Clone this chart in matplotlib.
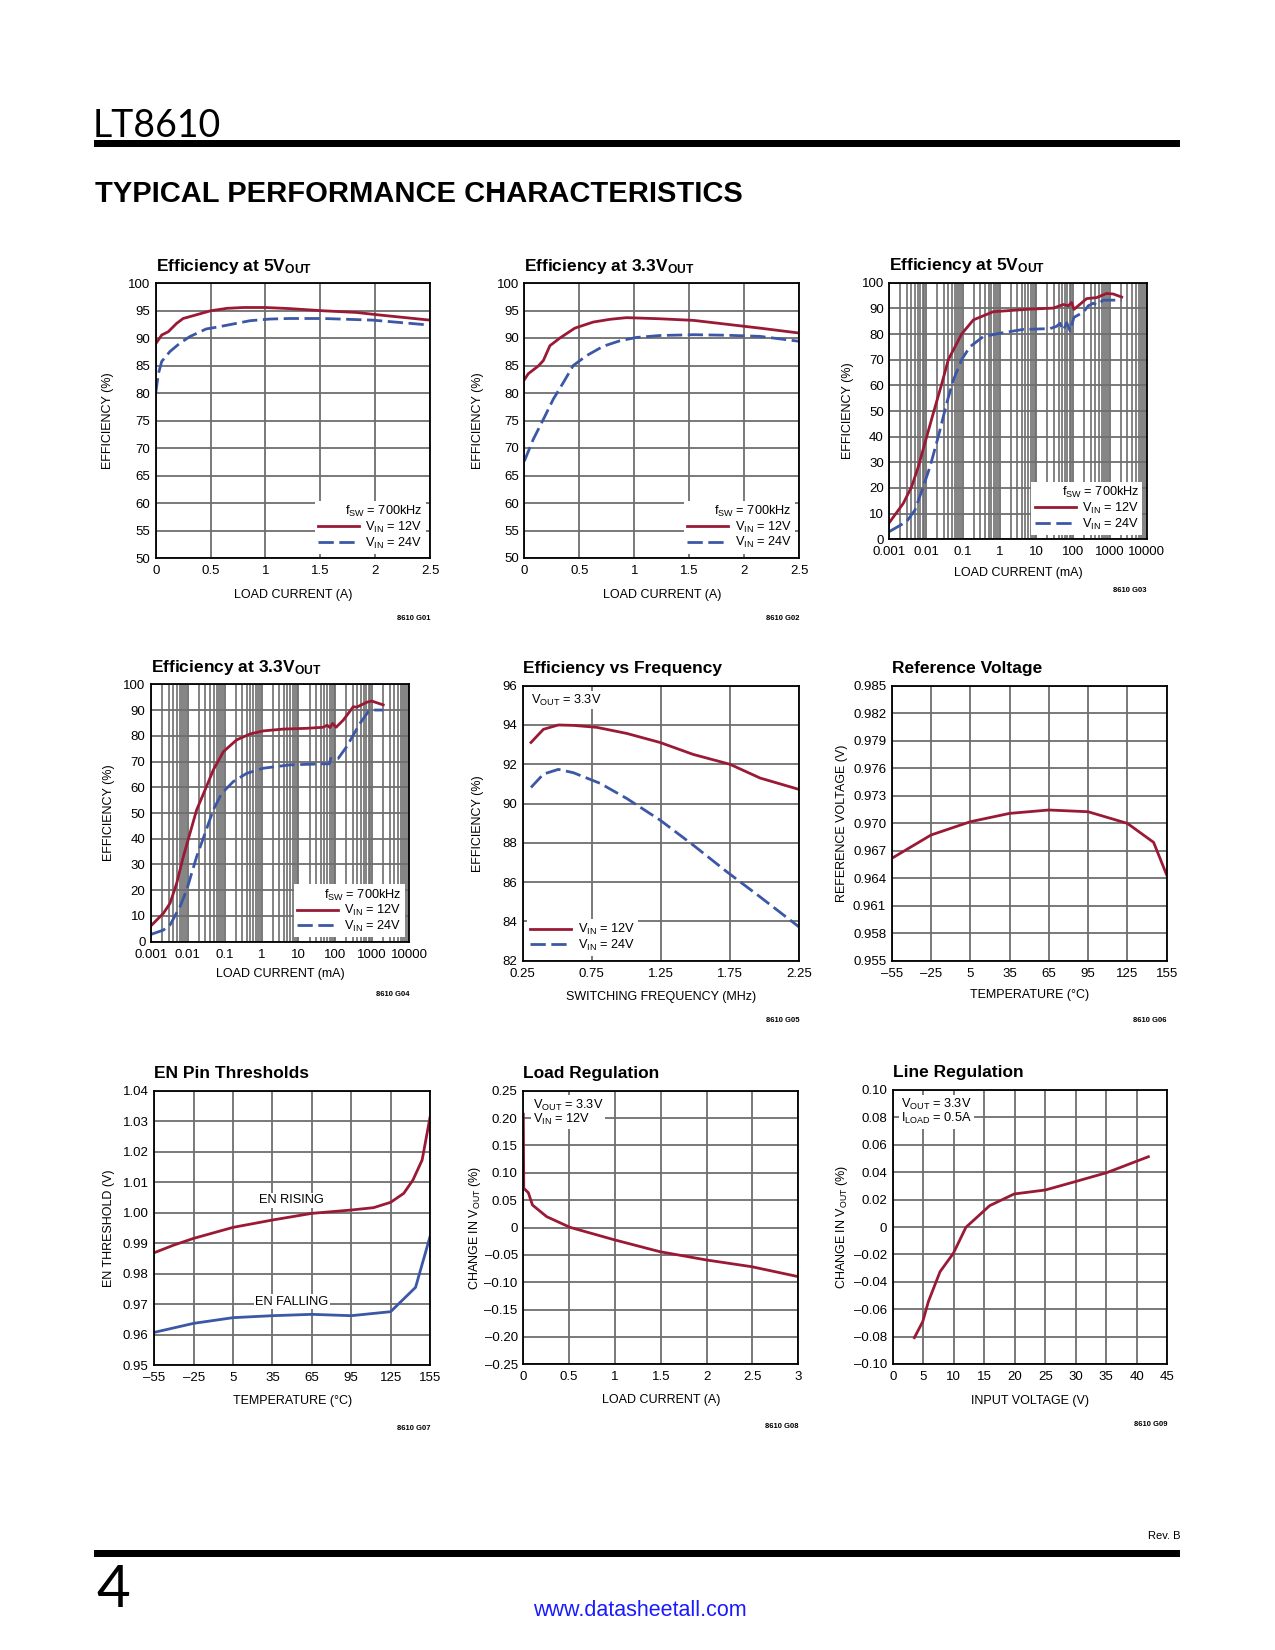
import matplotlib
matplotlib.use('Agg')
import matplotlib.pyplot as plt
from matplotlib.ticker import FixedLocator, FuncFormatter, LogLocator, NullFormatter
from matplotlib.patches import Rectangle

NARROW = ['Liberation Sans Narrow', 'Liberation Sans', 'DejaVu Sans']
plt.rcParams['font.family'] = NARROW
plt.rcParams['mathtext.default'] = 'regular'
plt.rcParams['axes.unicode_minus'] = False

RED = '#9a1a35'
BLUE = '#3b57a6'
GRID = '#6e6e6e'

# ---- data ----
# G01 efficiency at 5Vout, linear current (A)
g01_i12 = [0.0, 0.055, 0.115, 0.19, 0.25, 0.34, 0.5, 0.65, 0.8, 1.0, 1.22, 1.53, 1.83, 2.01, 2.5]
g01_e12 = [89.0, 90.6, 91.2, 92.7, 93.6, 94.1, 95.0, 95.45, 95.6, 95.6, 95.4, 95.0, 94.7, 94.3, 93.3]
g01_i24 = [0.0, 0.025, 0.055, 0.13, 0.22, 0.31, 0.46, 0.55, 0.68, 0.86, 1.04, 1.22, 1.53, 1.98, 2.5]
g01_e24 = [80.0, 83.6, 85.8, 87.6, 89.1, 90.3, 91.7, 92.0, 92.5, 93.2, 93.5, 93.6, 93.6, 93.3, 92.4]

# G02 efficiency at 3.3Vout
g02_i12 = [0.0, 0.036, 0.127, 0.173, 0.233, 0.324, 0.46, 0.627, 0.78, 0.93, 1.08, 1.23, 1.54, 1.84, 2.14, 2.5]
g02_e12 = [82.4, 83.5, 84.9, 85.9, 88.6, 90.0, 91.8, 92.9, 93.4, 93.7, 93.6, 93.5, 93.2, 92.5, 91.8, 90.9]
g02_i24 = [0.0, 0.082, 0.173, 0.264, 0.355, 0.445, 0.567, 0.718, 0.87, 1.02, 1.23, 1.54, 1.84, 2.14, 2.5]
g02_e24 = [67.6, 71.6, 75.2, 78.9, 81.9, 85.0, 86.8, 88.5, 89.5, 90.1, 90.45, 90.6, 90.5, 90.3, 89.4]

# G03 efficiency at 5Vout, log current (mA)
g03_i12 = [0.001, 0.0024, 0.00405, 0.00615, 0.0104, 0.0157, 0.026, 0.0403, 0.0927, 0.193, 0.674,
           6.7, 28.8, 54, 73.6, 91, 105, 233, 436, 810, 1230, 2090]
g03_e12 = [6.5, 14.0, 20.5, 28.3, 40.0, 49.1, 60.0, 70.0, 80.0, 85.5, 88.7,
           89.7, 90.1, 91.5, 91.0, 92.3, 89.6, 93.8, 94.2, 95.8, 95.6, 94.4]
g03_i24 = [0.001, 0.00296, 0.00499, 0.0084, 0.0128, 0.0215, 0.0363, 0.055, 0.0927, 0.155, 0.36, 1.02,
           4.4, 23.4, 35.5, 43.7, 54, 67, 82.5, 105, 189, 258, 353, 436, 660, 2090]
g03_e24 = [3.0, 6.9, 11.4, 20.5, 28.3, 40.0, 53.0, 62.0, 70.0, 75.0, 79.0, 80.3,
           81.8, 82.1, 83.0, 84.2, 81.5, 84.4, 81.2, 86.5, 88.5, 91.0, 92.0, 91.3, 93.2, 93.2]

# G04 efficiency at 3.3Vout, log current (mA)
g04_i12 = [0.001, 0.00216, 0.00328, 0.00497, 0.00753, 0.0114, 0.0173, 0.0292, 0.049, 0.0917, 0.21, 0.486,
           1.12, 3.89, 16.6, 47, 60, 71.7, 84.6, 105, 165, 308, 379, 707, 970, 2000]
g04_e12 = [6.2, 11.0, 14.9, 22.7, 33.0, 42.1, 51.2, 58.9, 66.7, 73.8, 78.4, 80.7,
           81.9, 82.6, 82.9, 83.3, 84.1, 83.2, 84.8, 83.3, 86.1, 91.3, 91.1, 93.0, 93.5, 92.0]
g04_i24 = [0.001, 0.00216, 0.00328, 0.00612, 0.00927, 0.0173, 0.0292, 0.049, 0.0826, 0.171, 0.394, 1.12,
           5.89, 47, 69, 75, 120, 204, 308, 467, 790, 1075, 2000]
g04_e24 = [2.85, 4.5, 6.5, 13.6, 20.1, 33.0, 42.1, 51.2, 57.6, 62.2, 65.4, 67.4,
           68.7, 69.1, 69.1, 71.2, 71.2, 75.8, 80.3, 84.8, 89.4, 90.0, 90.0]

# G05 efficiency vs switching frequency (MHz)
g05_f12 = [0.31, 0.40, 0.508, 0.617, 0.786, 1.003, 1.244, 1.485, 1.75, 1.968, 2.25]
g05_e12 = [93.11, 93.78, 94.0, 93.98, 93.88, 93.57, 93.11, 92.5, 92.0, 91.3, 90.72]
g05_f24 = [0.31, 0.40, 0.508, 0.617, 0.81, 1.003, 1.244, 1.485, 1.727, 1.968, 2.25]
g05_e24 = [90.82, 91.5, 91.74, 91.57, 91.03, 90.26, 89.16, 87.88, 86.53, 85.25, 83.72]

# G06 reference voltage vs temperature
g06_t = [-55, -25, 5, 35, 65, 95, 125, 145, 155]
g06_v = [0.96616, 0.96871, 0.97016, 0.97107, 0.97144, 0.97125, 0.96998, 0.96791, 0.96435]

# G07 EN pin thresholds
g07_t_rise = [-55, -40, -25, 5, 35, 65, 95, 112, 125, 135, 142, 149, 155]
g07_v_rise = [0.98685, 0.98937, 0.99155, 0.99516, 0.99757, 0.99975, 1.00085, 1.00162, 1.00337,
              1.00632, 1.01069, 1.01725, 1.03125]
g07_t_fall = [-55, -25, 5, 35, 65, 95, 125, 144, 155]
g07_v_fall = [0.96071, 0.96367, 0.96553, 0.96618, 0.96662, 0.96618, 0.96749, 0.97548, 0.9921]

# G08 load regulation
g08_i = [0.0, 0.005, 0.055, 0.10, 0.255, 0.51, 1.0, 1.49, 2.0, 2.49, 3.0]
g08_dv = [0.207, 0.0716, 0.0636, 0.0411, 0.0198, 0.0003, -0.0228, -0.0442, -0.0594, -0.0716, -0.0898]

# G09 line regulation
g09_vin = [3.55, 4.92, 5.84, 7.76, 9.94, 12.0, 15.9, 19.9, 25.0, 29.9, 35.1, 41.9]
g09_dv = [-0.0808, -0.0691, -0.0545, -0.0326, -0.0192, -0.0002, 0.0156, 0.0241, 0.0270, 0.0331, 0.0397, 0.0513]

# tick lists
eff_lin_ticks = [50, 55, 60, 65, 70, 75, 80, 85, 90, 95, 100]
eff_log_ticks = [0, 10, 20, 30, 40, 50, 60, 70, 80, 90, 100]
cur_lin_ticks = [0, 0.5, 1, 1.5, 2, 2.5]
cur_log_ticks = [0.001, 0.01, 0.1, 1, 10, 100, 1000, 10000]
freq_ticks = [0.25, 0.75, 1.25, 1.75, 2.25]
freq_eff_ticks = [82, 84, 86, 88, 90, 92, 94, 96]
temp_ticks = [-55, -25, 5, 35, 65, 95, 125, 155]
vref_ticks = [0.955, 0.958, 0.961, 0.964, 0.967, 0.970, 0.973, 0.976, 0.979, 0.982, 0.985]
en_ticks = [0.95, 0.96, 0.97, 0.98, 0.99, 1.00, 1.01, 1.02, 1.03, 1.04]
load_ticks = [0, 0.5, 1, 1.5, 2, 2.5, 3]
load_dv_ticks = [-0.25, -0.20, -0.15, -0.10, -0.05, 0, 0.05, 0.10, 0.15, 0.20, 0.25]
vin_ticks = [0, 5, 10, 15, 20, 25, 30, 35, 40, 45]
line_dv_ticks = [-0.10, -0.08, -0.06, -0.04, -0.02, 0, 0.02, 0.04, 0.06, 0.08, 0.10]

W, H = 1275, 1650
fig = plt.figure(figsize=(12.75, 16.5), dpi=100)
FS = 9.2


def new_axes(l, r, t, b):
    return fig.add_axes([l / W, 1 - b / H, (r - l) / W, (b - t) / H])


def fmt(spec, zero=None):
    def f(v, pos):
        if zero is not None and abs(v) < 1e-12:
            return zero
        return (spec % v).replace('-', '\u2013')
    return FuncFormatter(f)


def decorate(ax, title, xlabel, ylabel, xticks, yticks, xf, yf, ylx, xly, code, log=False):
    ax.set_title(title, loc='left', fontsize=12.5, fontweight='bold', pad=9)
    ax.set_xlabel(xlabel, fontsize=9)
    ax.set_ylabel(ylabel, fontsize=9)
    ax.yaxis.set_label_coords(ylx, 0.5)
    ax.yaxis.label.set_va('center')
    ax.xaxis.set_label_coords(0.5, xly)
    ax.xaxis.label.set_va('center')
    ax.xaxis.set_major_locator(FixedLocator(xticks))
    ax.yaxis.set_major_locator(FixedLocator(yticks))
    ax.xaxis.set_major_formatter(xf)
    ax.yaxis.set_major_formatter(yf)
    ax.tick_params(which='both', length=0, labelsize=9.5)
    ax.tick_params(axis='x', pad=5)
    ax.tick_params(axis='y', pad=4)
    ax.set_axisbelow(True)
    ax.grid(True, which='major', color=GRID, lw=1.3)
    if log:
        ax.xaxis.set_minor_locator(LogLocator(base=10, subs=range(2, 10), numticks=20))
        ax.xaxis.set_minor_formatter(NullFormatter())
        ax.grid(True, which='minor', axis='x', color=GRID, lw=1.2)
    for s in ax.spines.values():
        s.set_linewidth(1.3)
        s.set_color('black')
    pos = ax.get_position()
    fig.text(pos.x1, pos.y0 - code / H, code_names.pop(0), ha='right', va='center',
             fontsize=5.5, fontweight='bold')


def eff_legend(ax, title=r'f$_{SW}$ = 700kHz', loc='lower right'):
    leg = ax.legend(loc=loc, title=title, alignment='right', fontsize=FS, title_fontsize=FS,
                    frameon=True, facecolor='white', edgecolor='none', framealpha=1, fancybox=False,
                    borderpad=0.25, borderaxespad=0.35, handlelength=3.2, handletextpad=0.5,
                    labelspacing=0.05)
    leg.set_zorder(5)
    return leg


code_names = ['8610 G01', '8610 G02', '8610 G03', '8610 G04', '8610 G05', '8610 G06',
              '8610 G07', '8610 G08', '8610 G09']
LW = 2.0
DASH = (5.5, 2.0)
lab12 = r'V$_{IN}$ = 12V'
lab24 = r'V$_{IN}$ = 24V'

# ---- G01 ----
ax = new_axes(155.7, 430, 283.3, 558.3)
ax.plot(g01_i12, g01_e12, color=RED, lw=LW, label=lab12)
ax.plot(g01_i24, g01_e24, color=BLUE, lw=LW, dashes=DASH, label=lab24)
ax.set_xlim(0, 2.5)
ax.set_ylim(50, 100)
decorate(ax, r'Efficiency at 5V$_{OUT}$', 'LOAD CURRENT (A)', 'EFFICIENCY (%)',
         cur_lin_ticks, eff_lin_ticks, fmt('%g'), fmt('%g'), -0.175, -0.134, 60)
eff_legend(ax)

# ---- G02 ----
ax = new_axes(524.3, 799.3, 283, 558)
ax.plot(g02_i12, g02_e12, color=RED, lw=LW, label=lab12)
ax.plot(g02_i24, g02_e24, color=BLUE, lw=LW, dashes=DASH, label=lab24)
ax.set_xlim(0, 2.5)
ax.set_ylim(50, 100)
decorate(ax, r'Efficiency at 3.3V$_{OUT}$', 'LOAD CURRENT (A)', 'EFFICIENCY (%)',
         cur_lin_ticks, eff_lin_ticks, fmt('%g'), fmt('%g'), -0.167, -0.134, 61)
eff_legend(ax)

# ---- G03 ----
ax = new_axes(889.3, 1146.7, 282.7, 539.3)
ax.plot(g03_i12, g03_e12, color=RED, lw=LW, label=lab12)
ax.plot(g03_i24, g03_e24, color=BLUE, lw=LW, dashes=DASH, label=lab24)
ax.set_xscale('log')
ax.set_xlim(0.001, 10000)
ax.set_ylim(0, 100)
decorate(ax, r'Efficiency at 5V$_{OUT}$', 'LOAD CURRENT (mA)', 'EFFICIENCY (%)',
         cur_log_ticks, eff_log_ticks, fmt('%g'), fmt('%g'), -0.16, -0.132, 51, log=True)
eff_legend(ax)

# ---- G04 ----
ax = new_axes(151, 409, 684.3, 941.7)
ax.plot(g04_i12, g04_e12, color=RED, lw=LW, label=lab12)
ax.plot(g04_i24, g04_e24, color=BLUE, lw=LW, dashes=DASH, label=lab24)
ax.set_xscale('log')
ax.set_xlim(0.001, 10000)
ax.set_ylim(0, 100)
decorate(ax, r'Efficiency at 3.3V$_{OUT}$', 'LOAD CURRENT (mA)', 'EFFICIENCY (%)',
         cur_log_ticks, eff_log_ticks, fmt('%g'), fmt('%g'), -0.163, -0.126, 53, log=True)
eff_legend(ax)

# ---- G05 ----
ax = new_axes(522.7, 799, 685.7, 960.7)
ax.plot(g05_f12, g05_e12, color=RED, lw=LW, label=lab12)
ax.plot(g05_f24, g05_e24, color=BLUE, lw=LW, dashes=DASH, label=lab24)
ax.set_xlim(0.25, 2.25)
ax.set_ylim(82, 96)
decorate(ax, 'Efficiency vs Frequency', 'SWITCHING FREQUENCY (MHz)', 'EFFICIENCY (%)',
         freq_ticks, freq_eff_ticks, fmt('%g'), fmt('%g'), -0.163, -0.131, 60)
eff_legend(ax, title=None, loc='lower left')
ax.text(0.03, 0.975, r'V$_{OUT}$ = 3.3V', transform=ax.transAxes, va='top', ha='left',
        fontsize=FS, bbox=dict(fc='white', ec='none', pad=1))

# ---- G06 ----
ax = new_axes(891.7, 1166.7, 685.7, 960.7)
ax.plot(g06_t, g06_v, color=RED, lw=LW)
ax.set_xlim(-55, 155)
ax.set_ylim(0.955, 0.985)
decorate(ax, 'Reference Voltage', 'TEMPERATURE (\u00b0C)', 'REFERENCE VOLTAGE (V)',
         temp_ticks, vref_ticks, fmt('%g'), fmt('%.3f'), -0.182, -0.124, 60)

# ---- G07 ----
ax = new_axes(154.3, 430, 1090.7, 1365)
ax.plot(g07_t_rise, g07_v_rise, color=RED, lw=LW)
ax.plot(g07_t_fall, g07_v_fall, color=BLUE, lw=LW)
ax.set_xlim(-55, 155)
ax.set_ylim(0.95, 1.04)
decorate(ax, 'EN Pin Thresholds', 'TEMPERATURE (\u00b0C)', 'EN THRESHOLD (V)',
         temp_ticks, en_ticks, fmt('%g'), fmt('%.2f'), -0.163, -0.133, 63)
ax.text(49.6, 1.0041, 'EN RISING', ha='center', va='center', fontsize=FS,
        bbox=dict(fc='white', ec='none', pad=1))
ax.text(49.6, 0.97077, 'EN FALLING', ha='center', va='center', fontsize=FS,
        bbox=dict(fc='white', ec='none', pad=1))

# ---- G08 ----
ax = new_axes(523.3, 798.3, 1090.7, 1364.3)
ax.plot(g08_i, g08_dv, color=RED, lw=LW)
ax.set_xlim(0, 3)
ax.set_ylim(-0.25, 0.25)
decorate(ax, 'Load Regulation', 'LOAD CURRENT (A)', r'CHANGE IN V$_{OUT}$ (%)',
         load_ticks, load_dv_ticks, fmt('%g'), fmt('%.2f', '0'), -0.175, -0.13, 62)
ax.text(0.035, 0.975, 'V$_{OUT}$ = 3.3V\nV$_{IN}$ = 12V', transform=ax.transAxes, va='top',
        ha='left', fontsize=FS, linespacing=0.95, bbox=dict(fc='white', ec='none', pad=1.5))

# ---- G09 ----
ax = new_axes(892.7, 1167.3, 1090, 1364)
ax.plot(g09_vin, g09_dv, color=RED, lw=LW)
ax.set_xlim(0, 45)
ax.set_ylim(-0.10, 0.10)
decorate(ax, 'Line Regulation', 'INPUT VOLTAGE (V)', r'CHANGE IN V$_{OUT}$ (%)',
         vin_ticks, line_dv_ticks, fmt('%g'), fmt('%.2f', '0'), -0.185, -0.134, 61)
ax.text(0.03, 0.975, 'V$_{OUT}$ = 3.3V\nI$_{LOAD}$ = 0.5A', transform=ax.transAxes, va='top',
        ha='left', fontsize=FS, linespacing=0.95, bbox=dict(fc='white', ec='none', pad=1.5))

# ---- page furniture ----
fig.text(93 / W, 1 - 137 / H, 'LT8610', fontsize=27, family=['Lato', 'DejaVu Sans'],
         fontweight='normal', va='baseline', ha='left')
fig.add_artist(Rectangle((94 / W, 1 - 147 / H), (1180 - 94) / W, 7 / H,
                         transform=fig.transFigure, color='black', lw=0))
fig.text(95 / W, 1 - 202 / H, 'TYPICAL PERFORMANCE CHARACTERISTICS', fontsize=21,
         fontweight='bold', va='baseline', ha='left')
fig.text(1180 / W, 1 - 1536 / H, 'Rev. B', fontsize=8, ha='right', va='center')
fig.add_artist(Rectangle((94 / W, 1 - 1557 / H), (1180 - 94) / W, 7 / H,
                         transform=fig.transFigure, color='black', lw=0))
fig.text(96 / W, 1 - 1607 / H, '4', fontsize=42, family=['Lato', 'DejaVu Sans'],
         fontweight='normal', va='baseline', ha='left')
fig.text(640 / W, 1 - 1611 / H, 'www.datasheetall.com', fontsize=15.5, color='#1a1aff',
         ha='center', va='center')

fig.savefig('out.png', dpi=100, facecolor='white')
